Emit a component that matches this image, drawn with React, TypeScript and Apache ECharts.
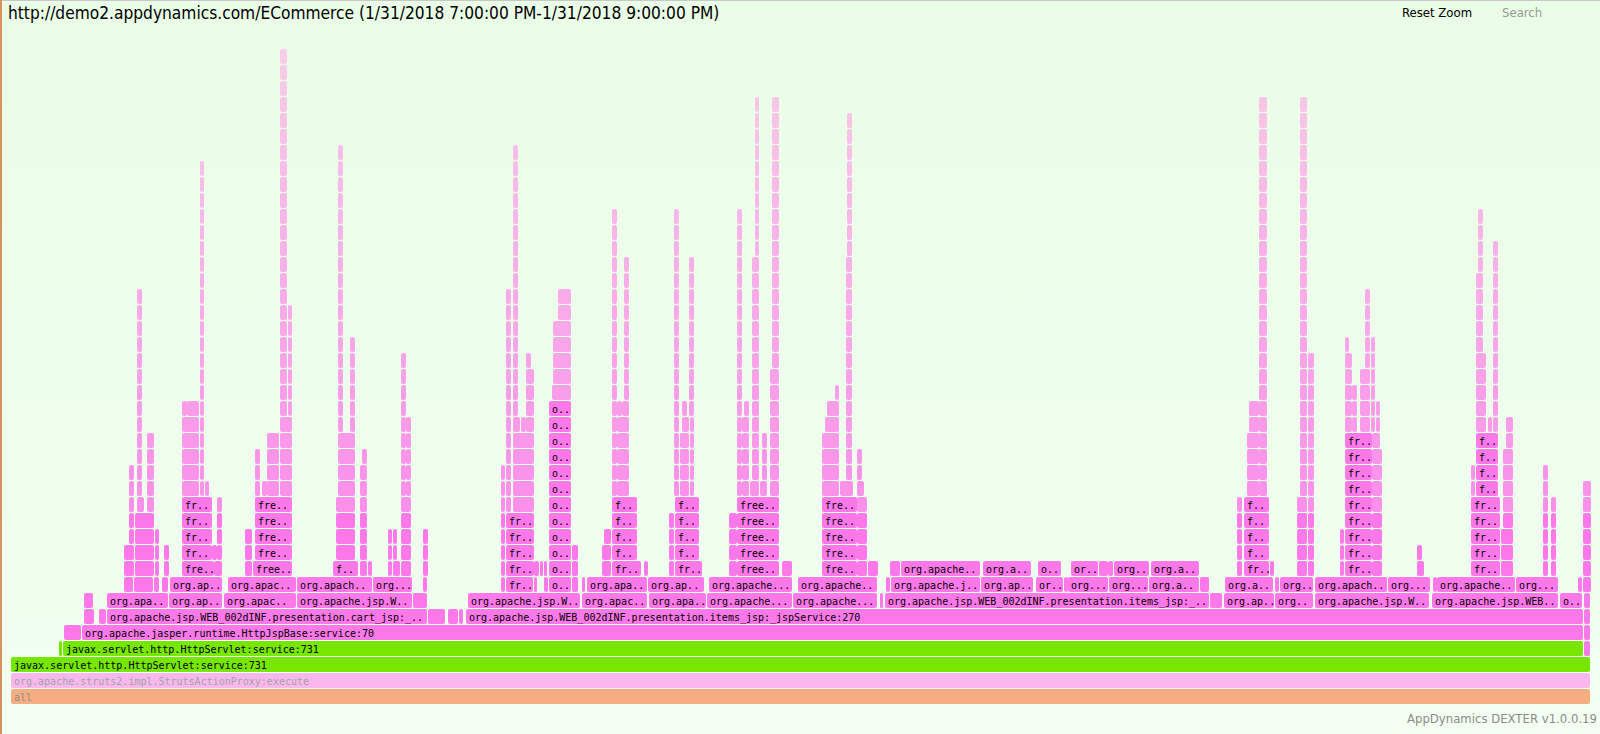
import React, { useEffect, useRef } from "react";
import * as echarts from "echarts";

// ---- chart texts ----
const titleText = "http://demo2.appdynamics.com/ECommerce (1/31/2018 7:00:00 PM-1/31/2018 9:00:00 PM)";
const resetText = "Reset Zoom";
const searchText = "Search";
const footerText = "AppDynamics DEXTER v1.0.0.19";

// ---- total sample range ----
const sampleMin = 11;
const sampleMax = 1590;
const maxDepth = 44;

// ---- base frames: [start, end, level, label, kind] ----
const baseFrames: [number, number, number, string, string][] = [
  [11, 1590, 0, "all", "root"],
  [11, 1590, 1, "org.apache.struts2.impl.StrutsActionProxy:execute", "proxy"],
  [11, 1590, 2, "javax.servlet.http.HttpServlet:service:731", "java"],
  [59, 62, 3, "", "java"],
  [63, 1583, 3, "javax.servlet.http.HttpServlet:service:731", "java"],
  [1584, 1590, 3, "", "jsp"],
  [64, 81, 4, "", "jsp"],
  [82, 1583, 4, "org.apache.jasper.runtime.HttpJspBase:service:70", "jsp"],
  [1584, 1590, 4, "", "jsp"],
];

// ---- level 5: [start, end, label] ----
const level5Frames: [number, number, string][] = [
  [84, 94, ""], [99, 106, ""],
  [107, 427, "org.apache.jsp.WEB_002dINF.presentation.cart_jsp:_.."],
  [428, 445, ""], [448, 458, ""], [459, 463, ""],
  [466, 1583, "org.apache.jsp.WEB_002dINF.presentation.items_jsp:_jspService:270"],
  [1584, 1590, ""],
];

// ---- level 6 ----
const level6Frames: [number, number, string][] = [
  [84, 93, ""], [107, 168, "org.apa.."], [169, 222, "org.ap.."], [224, 296, "org.apac.."],
  [297, 412, "org.apache.jsp.W.."], [413, 427, ""],
  [468, 580, "org.apache.jsp.W.."], [582, 647, "org.apac.."], [649, 706, "org.apa.."],
  [707, 792, "org.apache..."], [793, 877, "org.apache..."], [880, 883, ""],
  [885, 1209, "org.apache.jsp.WEB_002dINF.presentation.items_jsp:_.."], [1210, 1222, ""],
  [1224, 1274, "org.ap.."], [1275, 1313, "org.."], [1315, 1429, "org.apache.jsp.W.."],
  [1432, 1558, "org.apache.jsp.WEB.."], [1560, 1582, "o.."], [1584, 1590, ""],
];

// ---- level 7 ----
const level7Frames: [number, number, string][] = [
  [124, 133, ""], [134, 153, ""], [154, 159, ""], [162, 168, ""], [170, 222, "org.ap.."],
  [228, 296, "org.apac.."], [297, 372, "org.apach.."], [373, 412, "org..."], [423, 427, ""],
  [501, 505, ""], [506, 533, "fr.."], [534, 537, ""], [544, 548, ""], [549, 571, "o.."],
  [572, 578, ""], [582, 585, ""], [587, 647, "org.apa.."], [648, 704, "org.ap.."],
  [709, 792, "org.apache..."], [798, 877, "org.apache.."], [886, 890, ""],
  [891, 980, "org.apache.j.."], [981, 1033, "org.ap.."], [1036, 1063, "or.."], [1064, 1068, ""],
  [1068, 1108, "org..."], [1109, 1148, "org..."], [1149, 1199, "org.a.."], [1200, 1209, ""],
  [1225, 1273, "org.a.."], [1275, 1279, ""], [1280, 1313, "org.."], [1315, 1387, "org.apach.."],
  [1388, 1430, "org..."], [1433, 1437, ""], [1437, 1515, "org.apache.."], [1516, 1558, "org..."],
  [1578, 1582, ""], [1583, 1591, ""],
];

// ---- deeper stacks (level 8 and up): [start, end, fromLevel, toLevel, label] ----
const stacksCart: [number, number, number, number, string][] = [
  [124, 134, 8, 9, ""], [129, 134, 10, 14, ""], [135, 154, 8, 11, ""],
  [137, 144, 12, 12, ""], [137, 142, 13, 25, ""], [147, 154, 12, 16, ""],
  [155, 159, 8, 10, ""], [164, 169, 8, 9, ""],
  [182, 214, 8, 8, "fre.."], [182, 212, 9, 12, "fr.."], [212, 217, 9, 9, ""],
  [214, 222, 8, 8, ""], [217, 222, 9, 12, ""],
  [182, 199, 13, 17, ""], [182, 187, 18, 18, ""], [187, 199, 18, 18, ""],
  [200, 204, 13, 33, ""], [205, 209, 13, 13, ""],
  [245, 252, 8, 10, ""], [253, 292, 8, 8, "free.."], [255, 292, 9, 12, "fre.."],
  [255, 260, 13, 15, ""], [262, 267, 13, 13, ""], [267, 279, 13, 16, ""],
  [280, 292, 13, 17, ""], [280, 287, 18, 40, ""], [288, 292, 18, 24, ""],
  [333, 358, 8, 8, "f.."], [336, 355, 9, 12, ""], [338, 355, 13, 16, ""],
  [338, 343, 17, 34, ""], [350, 355, 17, 22, ""],
  [360, 367, 8, 14, ""], [362, 367, 15, 15, ""], [368, 372, 8, 8, ""],
  [388, 392, 8, 10, ""], [393, 400, 8, 8, ""], [393, 397, 9, 10, ""],
  [401, 411, 8, 12, ""], [401, 406, 13, 21, ""], [406, 411, 13, 17, ""],
  [423, 428, 8, 10, ""],
];

const stacksItems: [number, number, number, number, string][] = [
  [501, 505, 8, 14, ""], [506, 534, 8, 11, "fr.."],
  [534, 539, 8, 8, ""], [540, 543, 8, 8, ""], [544, 547, 8, 8, ""],
  [506, 511, 12, 25, ""], [513, 534, 12, 16, ""],
  [513, 520, 17, 17, ""], [521, 526, 17, 17, ""], [526, 534, 17, 20, ""], [526, 531, 21, 21, ""],
  [513, 518, 18, 34, ""],
  [549, 571, 8, 18, "o.."], [552, 571, 19, 19, ""], [553, 571, 20, 23, ""], [558, 571, 24, 25, ""],
  [572, 578, 8, 9, ""],
  [602, 611, 8, 9, ""], [604, 611, 10, 10, ""],
  [612, 641, 8, 8, "fr.."], [612, 637, 9, 12, "f.."], [644, 648, 8, 8, ""],
  [612, 617, 13, 30, ""], [617, 629, 13, 17, ""], [617, 622, 18, 18, ""], [622, 629, 18, 18, ""],
  [624, 629, 19, 27, ""],
  [669, 674, 8, 11, ""], [675, 702, 8, 8, "fr.."], [675, 699, 9, 12, "f.."],
  [674, 679, 13, 30, ""], [680, 689, 13, 16, ""], [682, 689, 17, 17, ""], [682, 687, 18, 18, ""],
  [690, 694, 13, 17, ""], [689, 694, 18, 27, ""],
  [729, 737, 8, 11, ""], [737, 779, 8, 12, "free.."], [782, 792, 8, 8, ""],
  [737, 742, 13, 30, ""], [742, 749, 13, 17, ""], [744, 749, 18, 18, ""],
  [750, 759, 13, 13, ""], [760, 767, 13, 13, ""], [752, 759, 14, 27, ""], [762, 767, 14, 16, ""],
  [755, 759, 28, 37, ""], [770, 779, 13, 20, ""], [772, 779, 21, 37, ""],
  [822, 857, 8, 12, "fre.."],
  [822, 839, 13, 16, ""], [825, 839, 17, 17, ""], [827, 839, 18, 18, ""], [835, 839, 19, 19, ""],
  [840, 853, 13, 13, ""], [846, 852, 14, 27, ""], [847, 852, 28, 36, ""],
  [857, 867, 8, 12, ""], [857, 864, 13, 13, ""], [857, 862, 14, 15, ""], [868, 878, 8, 8, ""],
  [890, 900, 8, 8, ""], [901, 980, 8, 8, "org.apache.."], [983, 1031, 8, 8, "org.a.."],
  [1038, 1061, 8, 8, "o.."], [1071, 1098, 8, 8, "or.."], [1099, 1108, 8, 8, ""],
  [1108, 1113, 8, 8, ""], [1114, 1149, 8, 8, "org.."], [1151, 1199, 8, 8, "org.a.."],
  [1237, 1242, 8, 12, ""], [1244, 1269, 8, 8, "fr.."], [1244, 1269, 9, 12, "f.."],
  [1270, 1274, 8, 8, ""], [1247, 1259, 13, 16, ""], [1249, 1259, 17, 18, ""],
  [1259, 1267, 13, 37, ""],
  [1297, 1307, 8, 12, ""], [1300, 1307, 13, 37, ""], [1308, 1314, 8, 21, ""],
  [1340, 1344, 8, 10, ""],
  [1345, 1372, 8, 16, "fr.."], [1372, 1382, 8, 15, ""], [1372, 1380, 16, 16, ""],
  [1345, 1352, 17, 21, ""], [1345, 1349, 22, 22, ""], [1352, 1357, 17, 19, ""],
  [1360, 1370, 17, 20, ""], [1365, 1370, 21, 25, ""], [1371, 1375, 17, 22, ""],
  [1376, 1380, 17, 18, ""],
  [1417, 1424, 8, 8, ""], [1417, 1422, 9, 9, ""],
  [1471, 1500, 8, 12, "fr.."], [1471, 1475, 13, 14, ""], [1476, 1498, 13, 16, "f.."],
  [1501, 1513, 8, 10, ""], [1503, 1513, 11, 15, ""], [1506, 1513, 16, 17, ""],
  [1476, 1486, 17, 21, ""], [1488, 1492, 17, 17, ""], [1493, 1498, 17, 28, ""],
  [1476, 1483, 22, 26, ""], [1478, 1483, 27, 30, ""],
  [1543, 1548, 8, 14, ""], [1551, 1556, 8, 12, ""], [1583, 1591, 8, 13, ""],
];

type Frame = { s: number; e: number; l: number; label: string; kind: string };

function buildFrames(): Frame[] {
  const out: Frame[] = [];
  baseFrames.forEach(([s, e, l, label, kind]) => out.push({ s, e, l, label, kind }));
  level5Frames.forEach(([s, e, label]) => out.push({ s, e, l: 5, label, kind: "jsp" }));
  level6Frames.forEach(([s, e, label]) => out.push({ s, e, l: 6, label, kind: "jsp" }));
  level7Frames.forEach(([s, e, label]) => out.push({ s, e, l: 7, label, kind: "jsp" }));
  [...stacksCart, ...stacksItems].forEach(([s, e, from, to, label]) => {
    for (let l = from; l <= to; l++) out.push({ s, e, l, label, kind: "jsp" });
  });
  return out;
}

function mix(a: number[], b: number[], t: number) {
  const c = a.map((v, i) => Math.round(v + (b[i] - v) * t));
  return `rgb(${c[0]},${c[1]},${c[2]})`;
}

function frameColor(f: Frame) {
  if (f.kind === "root") return "#f7ad82";
  if (f.kind === "proxy") return "#f8b8ee";
  if (f.kind === "java") return "#77e600";
  if (f.label || f.l <= 11) return "#fd79ea";
  const t = Math.min(1, Math.max(0, (f.l - 12) / 28));
  return mix([250, 144, 234], [247, 204, 231], t);
}

function textColor(f: Frame) {
  if (f.kind === "root") return "#8e8e8e";
  if (f.kind === "proxy") return "#a3a3a3";
  return "#000000";
}

export default function App() {
  const ref = useRef<HTMLDivElement>(null);
  useEffect(() => {
    if (!ref.current) return;
    const chart = echarts.init(ref.current, undefined, { renderer: "svg" });
    const frames = buildFrames();
    const uiFont = "DejaVu Sans Condensed";
    chart.setOption({
      animation: false,
      backgroundColor: new echarts.graphic.LinearGradient(0, 0, 0, 1, [
        { offset: 0, color: "#eafde7" },
        { offset: 1, color: "#f2fff1" },
      ]),
      grid: { left: sampleMin, right: 1600 - sampleMax, top: 1, bottom: 29 },
      xAxis: { type: "value", min: sampleMin, max: sampleMax, show: false },
      yAxis: { type: "value", min: 0, max: maxDepth, show: false },
      graphic: [
        { type: "rect", left: 0, top: 0, shape: { width: 1600, height: 1 }, style: { fill: "#c8c8c8" } },
        { type: "rect", left: 0, top: 0, shape: { width: 2, height: 734 }, style: { fill: "#d9905e" } },
        {
          type: "text", x: 8, y: 13,
          style: { text: titleText, fontSize: 17.2, fontFamily: uiFont, fill: "#000", verticalAlign: "middle" },
        },
        {
          type: "text", x: 1402, y: 12,
          style: { text: resetText, fontSize: 13, fontFamily: uiFont, fill: "#000", verticalAlign: "middle" },
        },
        {
          type: "text", x: 1502, y: 12,
          style: { text: searchText, fontSize: 13, fontFamily: uiFont, fill: "#999", verticalAlign: "middle" },
        },
        {
          type: "text", x: 1597, y: 718,
          style: { text: footerText, fontSize: 13, fontFamily: uiFont, fill: "#8c8c8c", align: "right", verticalAlign: "middle" },
        },
      ],
      series: [
        {
          type: "custom",
          silent: true,
          clip: false,
          encode: { x: [0, 1], y: 2 },
          data: frames.map((f) => [f.s, f.e, f.l]),
          renderItem: (params: any, api: any) => {
            const f = frames[params.dataIndex];
            const p0 = api.coord([api.value(0), api.value(2) + 1]);
            const p1 = api.coord([api.value(1), api.value(2)]);
            const x = p0[0];
            const y = p0[1];
            const w = Math.max(1, p1[0] - p0[0]);
            const h = p1[1] - p0[1] - 1;
            const children: any[] = [
              { type: "rect", shape: { x, y, width: w, height: h, r: 2 }, style: { fill: frameColor(f) } },
            ];
            if (f.label) {
              children.push({
                type: "text",
                style: {
                  x: x + 3, y: y + h / 2 + 0.5, text: f.label, fill: textColor(f),
                  fontSize: 10, fontFamily: "DejaVu Sans Mono", verticalAlign: "middle",
                },
              });
            }
            return { type: "group", children };
          },
        },
      ],
    });
    return () => chart.dispose();
  }, []);
  return <div ref={ref} style={{ position: "fixed", left: 0, top: 0, width: 1600, height: 734 }} />;
}
